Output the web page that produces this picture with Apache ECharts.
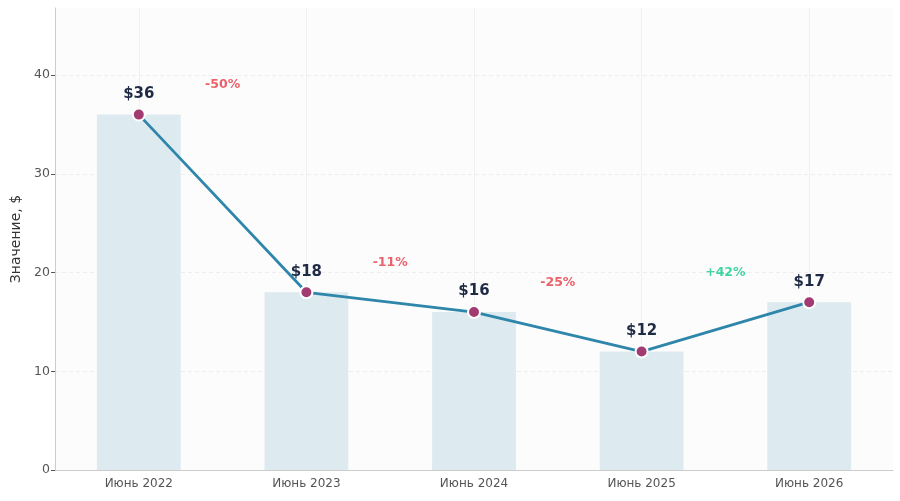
<!DOCTYPE html>
<html>
<head>
<meta charset="utf-8">
<script src="https://cdn.jsdelivr.net/npm/echarts@6/dist/echarts.min.js"></script>
<style>
  html, body { margin: 0; padding: 0; background: #fff; }
  #chart { width: 900px; height: 501px; }
</style>
</head>
<body>
<div id="chart"></div>
<script>
const categories = ['Июнь 2022', 'Июнь 2023', 'Июнь 2024', 'Июнь 2025', 'Июнь 2026'];
const values = [36, 18, 16, 12, 17];
const changeLabels = ['-50%', '-11%', '-25%', '+42%'];
const changeY = [39, 21, 19, 20];
const yTicks = [0, 10, 20, 30, 40];

const font = 'DejaVu Sans';
const red = '#e63946';
const green = '#14c98c';

const changeData = changeLabels.map((t, i) => ({
  value: [i + 0.5, changeY[i]],
  label: { color: t.startsWith('+') ? green : red },
}));

const chart = echarts.init(document.getElementById('chart'));
chart.setOption({
  animation: false,
  textStyle: { fontFamily: font },
  grid: {
    left: 55, right: 7, top: 8, bottom: 31,
    outerBoundsMode: 'none',
    containLabel: false,
    show: true, backgroundColor: '#fcfcfc', borderWidth: 0,
  },
  xAxis: [
    {
      type: 'category',
      data: categories,
      axisLine: { lineStyle: { color: '#cccccc', width: 1 } },
      axisTick: { alignWithLabel: true, length: 4, lineStyle: { color: '#555' } },
      axisLabel: { color: '#555', fontSize: 12, margin: 8 },
      splitLine: { show: true, alignWithLabel: true, lineStyle: { color: '#f0f0f0', width: 1 } },
    },
    {
      type: 'value',
      min: -0.5, max: 4.5,
      show: false,
      splitLine: { show: false },
    },
  ],
  yAxis: {
    type: 'value',
    min: 0, max: 46.8, interval: 10,
    name: 'Значение, $',
    nameLocation: 'middle',
    nameGap: 26,
    nameTextStyle: { color: '#333', fontSize: 14 },
    axisLine: { show: true, onZero: false, lineStyle: { color: '#cccccc', width: 1 } },
    axisTick: { show: true, length: 4, lineStyle: { color: '#555' } },
    axisLabel: {
      color: '#555', fontSize: 12.5, margin: 5,
      showMaxLabel: false,
      formatter: (v) => (yTicks.includes(v) ? String(v) : ''),
    },
    splitLine: {
      show: true, showMaxLine: false, showMinLine: false,
      lineStyle: { color: '#eeeeee', type: [4, 3], width: 1 },
    },
  },
  series: [
    {
      type: 'bar',
      data: values,
      barWidth: '50%',
      itemStyle: { color: '#ddeaef' },
      z: 1,
    },
    {
      type: 'line',
      data: values,
      lineStyle: { color: '#2e86ab', width: 2.8 },
      symbol: 'circle',
      symbolSize: 12,
      itemStyle: { color: '#a23b72', borderColor: '#fff', borderWidth: 2 },
      label: {
        show: true, position: 'top', distance: 6,
        formatter: (p) => '$' + p.value,
        color: '#1f2a44', fontSize: 15, fontWeight: 'bold',
      },
      z: 3,
    },
    {
      type: 'scatter',
      xAxisIndex: 1,
      data: changeData,
      symbolSize: 0,
      label: {
        show: true, position: 'inside',
        formatter: (p) => changeLabels[p.dataIndex],
        fontSize: 12.5, fontWeight: 'bold',
      },
      z: 4,
    },
  ],
});
</script>
</body>
</html>
